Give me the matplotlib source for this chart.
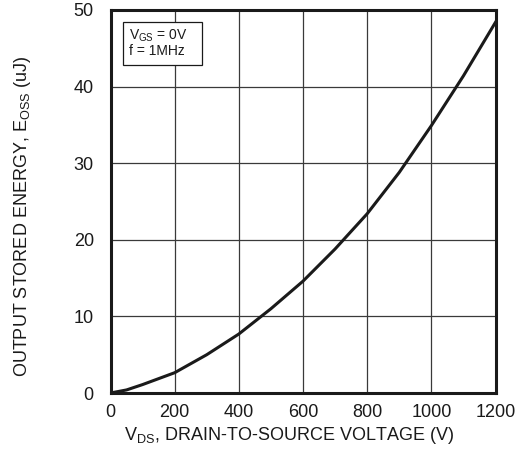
import matplotlib

matplotlib.use("Agg")
import matplotlib.pyplot as plt
from matplotlib.patches import Rectangle

# Output stored energy vs drain-source voltage
vds = [0, 50, 100, 200, 300, 400, 500, 600, 700, 800, 900, 1000, 1100, 1200]
eoss = [0, 0.4, 1.1, 2.65, 5.0, 7.7, 11.0, 14.6, 18.8, 23.4, 28.8, 34.9, 41.4, 48.4]

x_ticks = [0, 200, 400, 600, 800, 1000, 1200]
y_ticks = [0, 10, 20, 30, 40, 50]

plt.rcParams["font.family"] = "Liberation Sans"
plt.rcParams["mathtext.fontset"] = "custom"
plt.rcParams["mathtext.rm"] = "Liberation Sans"
plt.rcParams["mathtext.it"] = "Liberation Sans"

INK = "#1a1a1a"

fig = plt.figure(figsize=(5.23, 4.49), dpi=100)
ax = fig.add_axes([110.5 / 523, 1 - 393 / 449, 385 / 523, 383 / 449])

ax.plot(vds, eoss, color=INK, linewidth=2.2, zorder=3)

ax.set_xlim(0, 1200)
ax.set_ylim(0, 50)
ax.set_xticks(x_ticks)
ax.set_yticks(y_ticks)
ax.tick_params(axis="both", length=0, labelsize=13, colors=INK)
ax.tick_params(axis="x", pad=8)
ax.tick_params(axis="y", pad=12)
ax.grid(True, color="#3a3a3a", linewidth=0.9)
ax.set_axisbelow(True)
for spine in ax.spines.values():
    spine.set_linewidth(2.2)
    spine.set_color(INK)

ax.set_xlabel(r"V$_{\mathrm{DS}}$, DRAIN-TO-SOURCE VOLTAGE (V)", fontsize=13, labelpad=3,
              color=INK)
ax.xaxis.label.set_x(0.464)
ax.set_ylabel(r"OUTPUT STORED ENERGY, E$_{\mathrm{OSS}}$ (uJ)", fontsize=13, labelpad=29,
              color=INK)
ax.yaxis.label.set_y(0.462)

# condition box
ax.add_patch(Rectangle((0.0325, 0.856), 0.206, 0.113, transform=ax.transAxes,
                       facecolor="white", edgecolor=INK, linewidth=0.9, zorder=4))
ax.text(0.048, 0.955, "V$_{\\mathrm{GS}}$ = 0V\nf = 1MHz", transform=ax.transAxes,
        fontsize=10, va="top", ha="left", linespacing=1.05, color=INK, zorder=5)

fig.savefig("out.png", dpi=100)
